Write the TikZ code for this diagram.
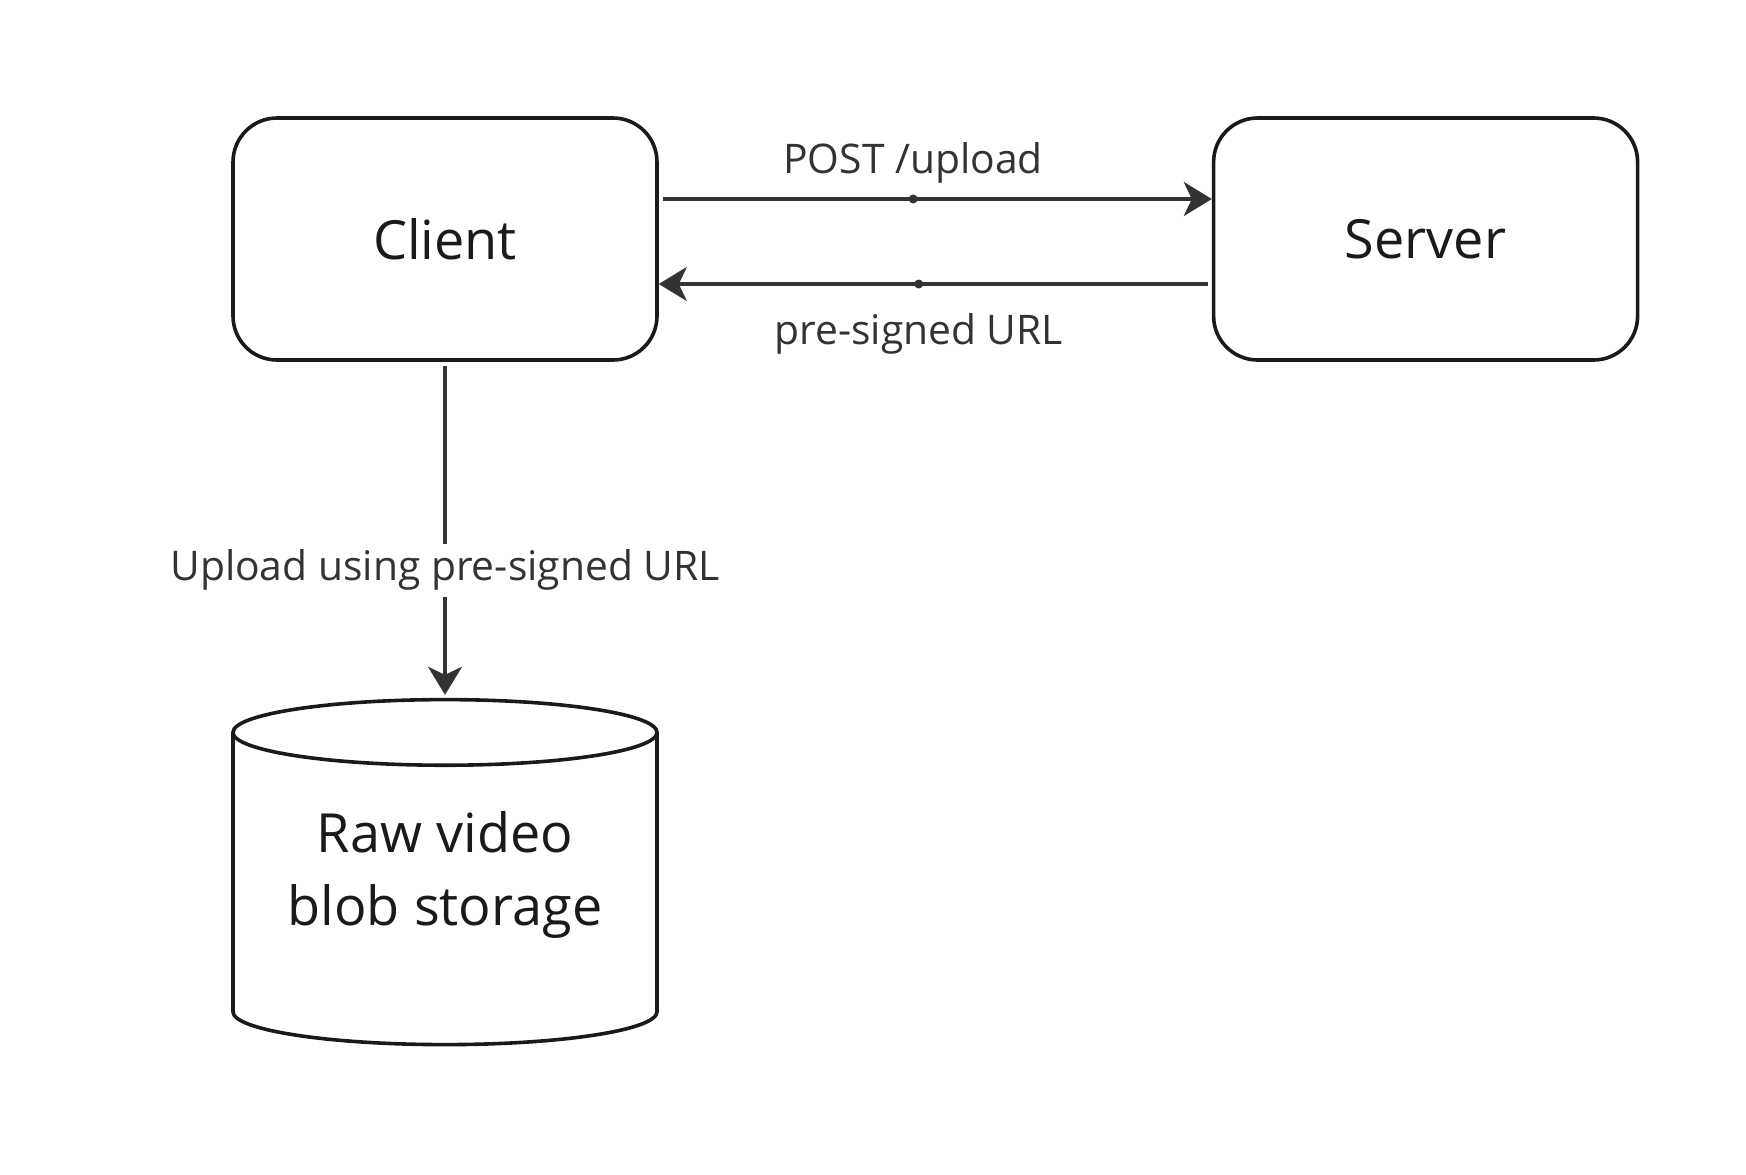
\documentclass[tikz,border=0pt]{standalone}
\usepackage{fontspec}
\setmainfont{Open Sans}
\usetikzlibrary{arrows.meta,positioning,shapes.geometric}
\definecolor{inkdark}{HTML}{1A1A1A}
\definecolor{inkgrey}{HTML}{333333}
\tikzset{
  flowbox/.style={draw=inkdark, line width=1.8pt, rounded corners=22pt,
    minimum width=212pt, minimum height=121pt, align=center,
    font=\fontsize{27}{36.5}\selectfont, text=inkdark},
  storebox/.style={draw=inkdark, line width=1.8pt, shape=cylinder,
    shape border rotate=90, aspect=0.2, minimum width=212pt,
    minimum height=172.5pt, align=center,
    font=\fontsize{27}{36.5}\selectfont, text=inkdark},
  flowarrow/.style={-{Stealth[length=14pt, width=17pt, inset=4pt]},
    draw=inkgrey, line width=1.7pt},
  flowlabel/.style={font=\fontsize{20.4}{24}\selectfont, text=inkgrey, inner sep=0pt},
  middot/.style={circle, fill=inkgrey, inner sep=0pt, minimum size=4.5pt}
}

\begin{document}
\begin{tikzpicture}[x=0.5pt, y=-0.5pt]
    \useasboundingbox (0,0) rectangle (1746,1174);
    \node[flowbox] (client) at (445,239) {Client};
    \node[flowbox, right=276.5pt of client] (server) {Server};
    % extra depth lifts the two lines to the middle of the drum
    \node[storebox, below=168pt of client] (storage) {Raw video\\blob storage\rule[-25pt]{0pt}{0pt}};
    \draw[flowarrow, shorten <=2pt] ([yshift=20pt]client.east) -- ([yshift=20pt]server.west)
      node[pos=0.46, middot] {} node[pos=0.46, above=7pt, flowlabel] {POST /upload};
    \draw[flowarrow, shorten <=2pt] ([yshift=-22.5pt]server.west) -- ([yshift=-22.5pt]client.east)
      node[pos=0.53, middot] {} node[pos=0.53, below=14pt, flowlabel] {pre-signed URL};
    \draw[flowarrow, shorten <=2pt, shorten >=1.5pt] (client.south) -- (storage.north)
      node[pos=0.62, flowlabel, fill=white, inner sep=3pt] {Upload using pre-signed URL};
  \end{tikzpicture}
\end{document}
